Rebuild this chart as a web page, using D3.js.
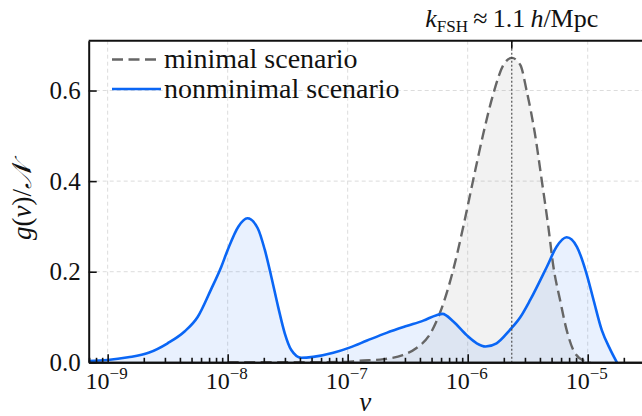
<!DOCTYPE html>
<html>
<head>
<meta charset="utf-8">
<script src="https://cdn.jsdelivr.net/npm/d3@7"></script>
<style>
  body { margin: 0; background: #fff; }
  svg text { font-family: "Liberation Serif", "Times New Roman", serif; fill: #111; }
</style>
</head>
<body>
<div id="chart"></div>
<script>
// values
var minimalV = [1e-8, 3.16e-8, 1e-7, 1.17e-7, 2e-7, 2.88e-7, 3.72e-7, 4.9e-7, 5.89e-7, 7.59e-7, 9.18e-7,
                1.11e-6, 1.35e-6, 1.64e-6, 1.98e-6, 2.33e-6, 2.75e-6, 3.09e-6, 3.63e-6, 4.14e-6, 4.7e-6,
                5.18e-6, 5.89e-6, 6.68e-6, 7.59e-6, 9.18e-6, 1.05e-5]
var minimalG = [0, 0, 0.001, 0.003, 0.007, 0.016, 0.031, 0.064, 0.11, 0.205, 0.299,
                0.402, 0.505, 0.594, 0.656, 0.672, 0.656, 0.601, 0.505, 0.402, 0.299,
                0.211, 0.137, 0.071, 0.027, 0.004, 0]

var nonminimalV = [6.86e-10, 1e-9, 1.48e-9, 2.19e-9, 3.16e-9, 4.37e-9, 5.62e-9, 7.24e-9, 8.85e-9, 1e-8,
                   1.23e-8, 1.46e-8, 1.78e-8, 2.04e-8, 2.31e-8, 2.63e-8, 2.99e-8, 3.39e-8, 4.1e-8, 5.16e-8,
                   7.59e-8, 1.05e-7, 1.45e-7, 2.11e-7, 3.09e-7, 4.27e-7, 5.5e-7, 6.17e-7, 7.59e-7, 9.8e-7,
                   1.19e-6, 1.41e-6, 1.74e-6, 2.24e-6, 2.75e-6, 3.31e-6, 4.57e-6, 5.5e-6, 6.68e-6, 8.13e-6,
                   9.77e-6, 1.12e-5, 1.31e-5, 1.55e-5, 1.75e-5]
var nonminimalG = [0.003, 0.005, 0.011, 0.021, 0.042, 0.068, 0.10, 0.16, 0.211, 0.248,
                   0.30, 0.318, 0.296, 0.248, 0.189, 0.123, 0.064, 0.027, 0.01, 0.012,
                   0.021, 0.033, 0.048, 0.065, 0.080, 0.092, 0.104, 0.107, 0.090, 0.060,
                   0.042, 0.035, 0.042, 0.071, 0.10, 0.137, 0.211, 0.255, 0.276, 0.255,
                   0.196, 0.137, 0.071, 0.027, 0]

var xMajorTicks = [1e-9, 1e-8, 1e-7, 1e-6, 1e-5]
var xTickExponents = ['\u22129', '\u22128', '\u22127', '\u22126', '\u22125']
var yTicks = [0, 0.2, 0.4, 0.6]
var kFSH = 2.33e-6
var legendLabels = ['minimal scenario', 'nonminimal scenario']

var W = 642, H = 416
var pL = 88.7, pT = 40.7, pR = 648, pB = 362.3
var serif = '"Liberation Serif", "Times New Roman", serif'

var svg = d3.select('#chart').append('svg')
    .attr('width', W)
    .attr('height', H)

var x = d3.scaleLog().domain([6.95e-10, 3.18e-5]).range([pL, pR])
var y = d3.scaleLinear().domain([0, 0.71]).range([pB, pT])

svg.append('clipPath').attr('id', 'plot')
  .append('rect')
    .attr('x', pL).attr('y', pT)
    .attr('width', pR - pL).attr('height', pB - pT)

// grid
var grid = svg.append('g')
grid.selectAll('.gx').data(xMajorTicks).enter().append('line')
    .attr('x1', d => x(d)).attr('x2', d => x(d))
    .attr('y1', pT).attr('y2', pB)
    .style('stroke', '#dcdcdc').style('stroke-width', 1).style('stroke-dasharray', '4,3')
grid.selectAll('.gy').data(yTicks.slice(1)).enter().append('line')
    .attr('x1', pL).attr('x2', pR)
    .attr('y1', d => y(d)).attr('y2', d => y(d))
    .style('stroke', '#dcdcdc').style('stroke-width', 1).style('stroke-dasharray', '4,3')

var minimal = minimalV.map((v, i) => [v, minimalG[i]])
var nonminimal = nonminimalV.map((v, i) => [v, nonminimalG[i]])

var area = d3.area()
    .x(d => x(d[0])).y0(y(0)).y1(d => y(d[1]))
    .curve(d3.curveMonotoneX)
var line = d3.line()
    .x(d => x(d[0])).y(d => y(d[1]))
    .curve(d3.curveMonotoneX)

var plot = svg.append('g').attr('clip-path', 'url(#plot)')
plot.append('path').datum(minimal)
    .attr('d', area)
    .style('fill', '#808080').style('fill-opacity', 0.1)
plot.append('path').datum(nonminimal)
    .attr('d', area)
    .style('fill', '#1066f0').style('fill-opacity', 0.09)
plot.append('path').datum(minimal)
    .attr('d', line)
    .style('fill', 'none').style('stroke', '#666').style('stroke-width', 2.4)
    .style('stroke-dasharray', '11,5.5')
plot.append('path').datum(nonminimal)
    .attr('d', line)
    .style('fill', 'none').style('stroke', '#0a66f5').style('stroke-width', 2.6)
    .style('stroke-linejoin', 'round')

// k_FSH marker
svg.append('line')
    .attr('x1', x(kFSH)).attr('x2', x(kFSH))
    .attr('y1', pT).attr('y2', pB)
    .style('stroke', '#444').style('stroke-width', 1.1).style('stroke-dasharray', '2,2')
svg.append('line')
    .attr('x1', x(kFSH)).attr('x2', x(kFSH))
    .attr('y1', pT).attr('y2', pT + 8)
    .style('stroke', '#111').style('stroke-width', 1.6)

// axes
var minorTicks = x.ticks().filter(d => xMajorTicks.indexOf(d) < 0)
var xMajor = svg.append('g').attr('transform', `translate(0,${pB})`)
    .call(d3.axisBottom(x).tickValues(xMajorTicks).tickSize(-8).tickSizeOuter(0).tickFormat(''))
var xMinor = svg.append('g').attr('transform', `translate(0,${pB})`)
    .call(d3.axisBottom(x).tickValues(minorTicks).tickSize(-4.5).tickSizeOuter(0).tickFormat(''))
var yAxis = svg.append('g').attr('transform', `translate(${pL},0)`)
    .call(d3.axisLeft(y).tickValues(yTicks).tickSize(-8).tickSizeOuter(0).tickPadding(8)
      .tickFormat(d3.format('.1f')))
;[xMajor, xMinor, yAxis].forEach(g => {
  g.selectAll('.tick line').style('stroke', '#111').style('stroke-width', 1.6)
  g.select('.domain').style('stroke', '#111').style('stroke-width', 2)
})
yAxis.selectAll('text').style('font-size', '25px').style('font-family', serif)
    .style('fill', '#111')

svg.append('line')
    .attr('x1', pL).attr('x2', pR).attr('y1', pT).attr('y2', pT)
    .style('stroke', '#111').style('stroke-width', 2)

// x tick labels: 10^n
var xl = svg.append('g').selectAll('text').data(xMajorTicks).enter().append('text')
    .attr('x', d => x(d) - 1)
    .attr('y', 389)
    .attr('text-anchor', 'middle')
    .style('font-family', serif)
    .style('font-size', '24px')
xl.append('tspan').text('10')
xl.append('tspan').attr('dy', -10).style('font-size', '17px').text((d, i) => xTickExponents[i])

// axis titles
svg.append('text')
    .attr('x', (pL + pR) / 2 - 3).attr('y', 411)
    .attr('text-anchor', 'middle')
    .style('font-family', serif)
    .style('font-size', '27px').style('font-style', 'italic')
    .text('v')
var yl = svg.append('text')
    .attr('transform', `translate(31,${(pT + pB) / 2}) rotate(-90)`)
    .attr('text-anchor', 'middle')
    .style('font-family', serif)
    .style('font-size', '27px')
yl.append('tspan').style('font-style', 'italic').text('g')
yl.append('tspan').text('(')
yl.append('tspan').style('font-style', 'italic').text('v')
yl.append('tspan').text(')/')
yl.append('tspan').style('font-style', 'italic').text('\u{1D4A9}')

// title
var t = svg.append('text')
    .attr('x', x(kFSH)).attr('y', 27)
    .attr('text-anchor', 'middle')
    .style('font-family', serif)
    .style('font-size', '26px')
t.append('tspan').style('font-style', 'italic').text('k')
t.append('tspan').attr('dy', 5).style('font-size', '17px').text('FSH')
t.append('tspan').attr('dy', -5).text('\u2009\u2248\u2009')
t.append('tspan').text('1.1\u2009')
t.append('tspan').style('font-style', 'italic').text('h')
t.append('tspan').text('/Mpc')

// legend
var legendStyles = [
  { color: '#666', dash: '11,5.5', width: 2.4 },
  { color: '#0a66f5', dash: null, width: 2.6 }
]
var lg = svg.append('g')
legendLabels.forEach((label, i) => {
  var ly = 59.5 + i * 29.5
  lg.append('line')
    .attr('x1', 112).attr('x2', 161).attr('y1', ly).attr('y2', ly)
    .style('stroke', legendStyles[i].color).style('stroke-width', legendStyles[i].width)
    .style('stroke-dasharray', legendStyles[i].dash)
  lg.append('text')
    .attr('x', 164).attr('y', ly + 8.5)
    .style('font-family', serif)
    .style('font-size', '28px')
    .text(label)
})
</script>
</body>
</html>
